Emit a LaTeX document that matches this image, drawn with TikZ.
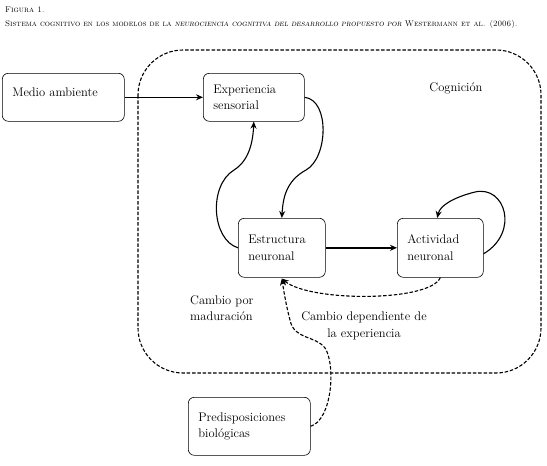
\documentclass[tikz,border=0pt]{standalone}
\usepackage{tikz}
\usetikzlibrary{arrows.meta}

\begin{document}
\begin{tikzpicture}[x=1pt,y=-1pt,
        caja/.style={draw,rounded corners=6pt,line width=0.6pt,anchor=north west,align=left,inner xsep=10pt,inner ysep=0pt,font=\fontsize{12.5}{16.5}\selectfont},
        etiqueta/.style={font=\fontsize{12.5}{16.5}\selectfont},
        flecha/.style={-{Stealth[length=7pt,width=6pt]},line width=1.1pt},
        trazos/.style={dash pattern=on 3.5pt off 1.8pt}]
        \useasboundingbox (0,0) rectangle (547,466);
        % titulo
        \node[anchor=west,inner sep=0pt,font=\fontsize{8.3}{10}\selectfont] (fig) at (5,10) {\textsc{Figura 1.}};
        \node[anchor=west,inner sep=0pt,font=\fontsize{8.2}{10}\selectfont] (tit) at (5,24) {\textsc{Sistema cognitivo en los modelos de la \textit{neurociencia cognitiva del desarrollo propuesto por} Westermann et al. (2006).}};
        % cognicion
        \draw[trazos,line width=1.1pt,rounded corners=45pt] (138,50) rectangle (541,373);
        \node[etiqueta] (cog) at (456,88) {Cognición};
        % cajas
        \node[caja,minimum width=122pt,minimum height=48pt,text width=102pt,text depth=11pt] (medio) at (2,73) {Medio ambiente};
        \node[caja,minimum width=101pt,minimum height=48pt,text width=81pt] (exper) at (203,73) {Experiencia\\sensorial};
        \node[caja,minimum width=87pt,minimum height=59pt,text width=67pt] (estr) at (238,218) {Estructura\\neuronal};
        \node[caja,minimum width=86pt,minimum height=59pt,text width=66pt] (activ) at (397,218) {Actividad\\neuronal};
        \node[caja,minimum width=122pt,minimum height=58pt,text width=102pt] (pred) at (188,397) {Predisposiciones\\biológicas};
        % rotulos
        \node[etiqueta,align=left,anchor=north west,inner sep=0pt] (madur) at (190,295) {Cambio por\\maduración};
        \node[etiqueta,align=center] (depen) at (364,326) {Cambio dependiente de\\la experiencia};
        % flechas
        \draw[flecha,line width=1.4pt] (medio.east) -- (exper.west);
        \draw[flecha] (exper.east) .. controls (330,100) and (328,158) .. (306,170) .. controls (286,181) and (283,198) .. (estr.north);
        \draw[flecha] (estr.west) .. controls (212,240) and (208,186) .. (234,170) .. controls (250,160) and (253,140) .. (exper.south);
        \draw[flecha,line width=2pt] (estr.east) -- (activ.west);
        \draw[flecha] ([yshift=-6pt]activ.east) .. controls (520,232) and (505,185) .. (475,192) .. controls (455,197) and (440,205) .. ([xshift=-3pt]activ.north);
        \draw[flecha,trazos] (activ.south) .. controls (430,302) and (310,302) .. ([yshift=-1pt]estr.south);
        \draw[flecha,trazos] (pred.east) .. controls (332,420) and (336,365) .. (325,348) .. controls (315,335) and (294,340) .. (290,320) .. controls (286,305) and (284,292) .. ([yshift=-1pt]estr.south);
\end{tikzpicture}
\end{document}
